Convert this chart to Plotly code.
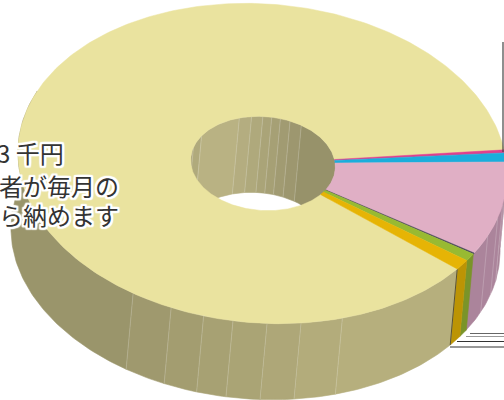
import math
import plotly.graph_objects as go

# ---- data (share of the whole, percent), clockwise from the lower-right edge of the big slice
categories = ["区分A", "区分B", "区分C", "区分D", "区分E", "区分F", "区分G"]
values = [87.2, 0.3, 0.9, 9.6, 0.12, 0.8, 1.08]
top_colors = ["#EAE39F", "#E0408C", "#1AAEDC", "#E0AFC5", "#444455", "#98BA32", "#E6B405"]
side_colors = ["#B6AF7D", "#A83068", "#1483A5", "#AB849B", "#333340", "#7A9429", "#BC9404"]
label_lines = ["3 千円", "者が毎月の", "ら納めます"]

# ---- drawing geometry
CX, CY = 262.5, 163.5
A, B = 245.0, 159.5
HCX = 263.0
HA, HB = 72.5, 47.0
TILT = math.radians(4.5)
DX, DY = -7.0, 76.0
START = 34.3
# facets of the rendered walls (degrees around the ring)
outer_facets = [34.3, 68, 78, 86, 94, 101, 109, 119, 200]
outer_facet_cols = ["#B6AF7D", "#B3AC7B", "#AEA778", "#AAA475", "#A7A173", "#A39D70", "#9F996E", "#9A956B"]
pink_facets = [-12, -4, 8, 28]
pink_facet_cols = ["#A98399", "#AA8499", "#AB849B"]
hole_facets = [150, 193, 209, 248, 258, 267, 274, 281, 289, 299, 380]
hole_facet_cols = ["#ACA67A", "#B0AA7C", "#B9B283", "#B4AD80", "#AFA97C", "#AAA478", "#A6A075", "#A19B72", "#9D976F", "#97926A"]
leader_ys = [333.5, 336.5, 341.5, 347.0]
leader_x0 = [470, 466, 457, 450]
leader_cols = ["#666666", "#999999", "#333333", "#333333"]


def pt(t, a, b, shift=False, cx=None):
    r = math.radians(t)
    x = a * math.cos(r)
    y = b * math.sin(r)
    px = (CX if cx is None else cx) + x * math.cos(TILT) - y * math.sin(TILT)
    py = CY + x * math.sin(TILT) + y * math.cos(TILT)
    if shift:
        px += DX
        py += DY
    return px, py


def arc(t0, t1, a, b, shift=False, cx=None):
    n = max(2, int(abs(t1 - t0)) + 2)
    return [pt(t0 + (t1 - t0) * i / (n - 1), a, b, shift, cx) for i in range(n)]


def poly(points, fill, line=None, width=0.6):
    xs = [p[0] for p in points] + [points[0][0]]
    ys = [p[1] for p in points] + [points[0][1]]
    return go.Scatter(x=xs, y=ys, mode="lines", fill="toself", fillcolor=fill,
                      line=dict(color=line or fill, width=width),
                      hoverinfo="skip", showlegend=False)


# slice angle spans from the values
total = sum(values)
spans = []
cur = START
for v in values:
    end = cur + v / total * 360.0
    spans.append((cur, end))
    cur = end

fig = go.Figure()

# inner wall seen through the hole
for i, c in enumerate(hole_facet_cols):
    t0, t1 = hole_facets[i], hole_facets[i + 1]
    fig.add_trace(poly(arc(t0, t1, HA, HB, cx=HCX) + arc(t1, t0, HA, HB, True, HCX), c))
lx, ly = [], []
for t in hole_facets[1:-1]:
    p, q = pt(t, HA, HB, cx=HCX), pt(t, HA, HB, True, HCX)
    lx += [p[0], q[0], None]
    ly += [p[1], q[1], None]
fig.add_trace(go.Scatter(x=lx, y=ly, mode="lines", line=dict(color="rgba(255,255,255,0.2)", width=1),
                         hoverinfo="skip", showlegend=False))

# outer wall
for i, c in enumerate(pink_facet_cols):
    t0, t1 = pink_facets[i], pink_facets[i + 1]
    fig.add_trace(poly(arc(t0, t1, A, B) + arc(t1, t0, A, B, True), c))
for idx in (5, 6):
    t0, t1 = spans[idx]
    t0 -= 360
    t1 -= 360
    fig.add_trace(poly(arc(t0, t1, A, B) + arc(t1, t0, A, B, True), side_colors[idx]))
for i, c in enumerate(outer_facet_cols):
    t0, t1 = outer_facets[i], outer_facets[i + 1]
    fig.add_trace(poly(arc(t0, t1, A, B) + arc(t1, t0, A, B, True), c))
lx, ly = [], []
for t in outer_facets[1:-1] + pink_facets[1:-1] + [20, 13]:
    p, q = pt(t, A, B), pt(t, A, B, True)
    lx += [p[0], q[0], None]
    ly += [p[1], q[1], None]
fig.add_trace(go.Scatter(x=lx, y=ly, mode="lines", line=dict(color="rgba(255,255,255,0.2)", width=1),
                         hoverinfo="skip", showlegend=False))
# dark seam at the front corner of the big slice
p, q = pt(START, A, B), pt(START, A, B, True)
fig.add_trace(go.Scatter(x=[p[0], q[0]], y=[p[1], q[1]], mode="lines", line=dict(color="#5A5232", width=1),
                         hoverinfo="skip", showlegend=False))

# top faces
for (t0, t1), c in zip(spans, top_colors):
    fig.add_trace(poly(arc(t0, t1, A, B) + arc(t1, t0, HA, HB, False, HCX), c, width=0.5))

# leader lines
for y, x0, c in zip(leader_ys, leader_x0, leader_cols):
    fig.add_trace(go.Scatter(x=[x0, 504], y=[y, y], mode="lines", line=dict(color=c, width=1.2),
                             hoverinfo="skip", showlegend=False))
fig.add_trace(go.Scatter(x=[503, 503], y=[42, 152], mode="lines", line=dict(color="#444444", width=1.2),
                         hoverinfo="skip", showlegend=False))

halo = ",".join(f"{dx}px {dy}px 1px #fff" for dx in (-2, -1, 0, 1, 2) for dy in (-2, -1, 0, 1, 2))
for text, y, x in zip(label_lines, [152, 185, 214], [66, 121, 121]):
    fig.add_annotation(x=x, y=y, xref="x", yref="y", text=text, showarrow=False, xanchor="right",
                       yanchor="middle", font=dict(family="Noto Sans CJK JP", size=24, color="#333333", shadow=halo))

fig.update_layout(
    width=504, height=400, margin=dict(l=0, r=0, t=0, b=0),
    paper_bgcolor="white", plot_bgcolor="white", showlegend=False,
    xaxis=dict(range=[0, 504], visible=False, fixedrange=True),
    yaxis=dict(range=[400, 0], visible=False, fixedrange=True),
)
fig.write_html("out.html", config={"displayModeBar": False}, post_script="document.body.style.margin='0';")
